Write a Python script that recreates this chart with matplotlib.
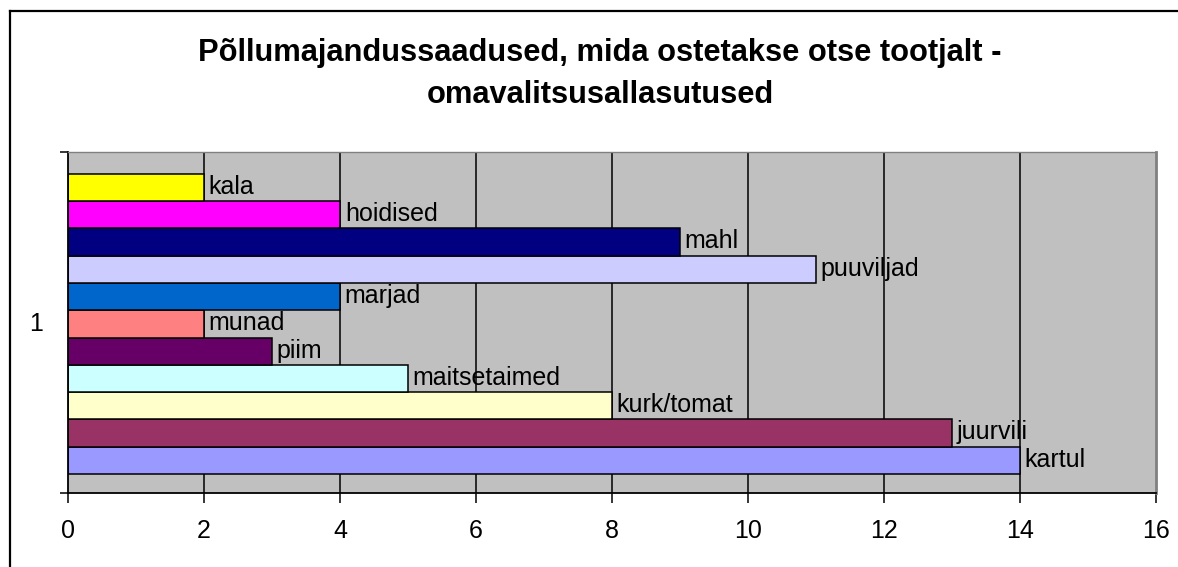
import matplotlib
matplotlib.use('Agg')
import matplotlib.pyplot as plt
from matplotlib.lines import Line2D

plt.rcParams['font.family'] = ['Liberation Sans', 'DejaVu Sans']

# andmed (alt ules)
tooted = ['kartul', 'juurvili', 'kurk/tomat', 'maitsetaimed', 'piim', 'munad',
          'marjad', 'puuviljad', 'mahl', 'hoidised', 'kala']
vaartused = [14, 13, 8, 5, 3, 2, 4, 11, 9, 4, 2]
varvid = ['#9999FF', '#993366', '#FFFFCC', '#CCFFFF', '#660066', '#FF8080',
          '#0066CC', '#CCCCFF', '#000080', '#FF00FF', '#FFFF00']
x_ticks = [0, 2, 4, 6, 8, 10, 12, 14, 16]
pealkiri = 'Põllumajandussaadused, mida ostetakse otse tootjalt -\nomavalitsusallasutused'

W, H = 1178, 567
fig = plt.figure(figsize=(W / 100, H / 100), dpi=100)
ax = fig.add_axes([68 / W, 1 - 493 / H, (1156 - 68) / W, (493 - 152) / H])
ax.set_facecolor('#C0C0C0')

# ruudustik
for xv in x_ticks[1:-1]:
    ax.axvline(xv, color='black', lw=1.1, zorder=1)

pos = list(range(len(tooted)))
ax.barh(pos, vaartused, height=1.0, color=varvid, edgecolor='black',
        linewidth=1.1, zorder=2)
for p, v, t in zip(pos, vaartused, tooted):
    ax.text(v + 0.07, p + 0.02, t, va='center', ha='left', fontsize=18, zorder=3)

ax.set_xlim(0, 16)
ax.set_ylim(-1.2, len(tooted) + 0.3)
ax.set_xticks(x_ticks)
ax.set_xticklabels([str(x) for x in x_ticks], fontsize=18)
ax.tick_params(axis='x', direction='out', length=7, width=1.1, pad=12)

# kategooriatelg: tickid aarjadel, silt keskel
ax.set_yticks([-1.2, len(tooted) + 0.3])
ax.set_yticklabels(['', ''])
ax.tick_params(axis='y', direction='out', length=6, width=1.1)
ax.text(-0.37, (len(tooted) - 1) / 2, '1', ha='right', va='center', fontsize=18,
        transform=ax.transData)

ax.spines['left'].set_linewidth(1.3)
ax.spines['bottom'].set_linewidth(1.3)
ax.spines['top'].set_color('#808080')
ax.spines['right'].set_color('#808080')
ax.spines['right'].set_linewidth(2)
ax.spines['top'].set_linewidth(1.0)

fig.text(600 / W, 1 - 74 / H, pealkiri, ha='center', va='center', fontsize=22.2,
         fontweight='bold', linespacing=1.5)

# diagrammi raam
fig.add_artist(Line2D([10, 10], [0, H - 11], transform=None, color='black', lw=1.6))
fig.add_artist(Line2D([10, W], [H - 11, H - 11], transform=None, color='black', lw=1.6))

fig.savefig('out.png', dpi=100)
